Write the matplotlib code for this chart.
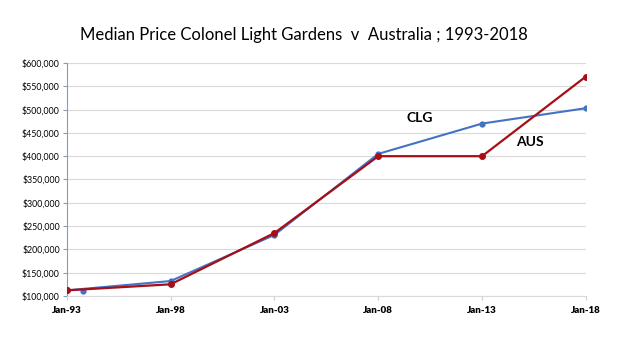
import matplotlib
matplotlib.use("Agg")
import matplotlib.pyplot as plt
from matplotlib.ticker import FuncFormatter

years = [1993, 1998, 2003, 2008, 2013, 2018]
year_labels = ["Jan-93", "Jan-98", "Jan-03", "Jan-08", "Jan-13", "Jan-18"]
clg = [112000, 132000, 231000, 405000, 470000, 503000]
aus = [112000, 125000, 235000, 400000, 400000, 571000]
# stray CLG marker near the start
clg_extra_x = [1993.8]
clg_extra_y = [110000]

blue = "#4472c4"
red = "#a50f15"

plt.rcParams['font.family'] = ['Lato', 'DejaVu Sans']

fig = plt.figure(figsize=(6.3, 3.54), dpi=100)
ax = fig.add_axes([0.106, 0.164, 0.824, 0.658])

ax.plot(years, clg, color=blue, lw=1.5, marker="o", ms=3.5, zorder=3)
ax.plot(clg_extra_x, clg_extra_y, color=blue, marker="o", ms=3.5, ls="none", zorder=3)
ax.plot(years, aus, color=red, lw=1.6, marker="o", ms=4, zorder=4)

ax.set_xlim(1993, 2018)
ax.set_ylim(100000, 600000)
ax.set_xticks(years)
ax.set_xticklabels(year_labels, fontsize=7, fontweight="heavy")
ax.set_yticks(range(100000, 600001, 50000))
ax.yaxis.set_major_formatter(FuncFormatter(lambda v, p: "${:,.0f}".format(v)))
ax.tick_params(axis="y", labelsize=6.3, length=3, color="#8a9bb0", pad=2)
ax.tick_params(axis="x", length=3, color="#d0d0d0", pad=4)

ax.grid(axis="y", color="#d9d9d9", lw=0.8)
ax.set_axisbelow(True)
for s in ["top", "right"]:
    ax.spines[s].set_visible(False)
ax.spines["left"].set_color("#8a9bb0")
ax.spines["bottom"].set_color("#d9d9d9")

ax.text(2010.0, 482000, "CLG", fontsize=10, fontweight="bold", ha="center", va="center")
ax.text(2015.3, 430000, "AUS", fontsize=10, fontweight="bold", ha="center", va="center")

fig.text(0.482, 0.9, "Median Price Colonel Light Gardens  v  Australia ; 1993-2018",
         fontsize=12, ha="center", va="center")

fig.savefig("out.png", dpi=100)
